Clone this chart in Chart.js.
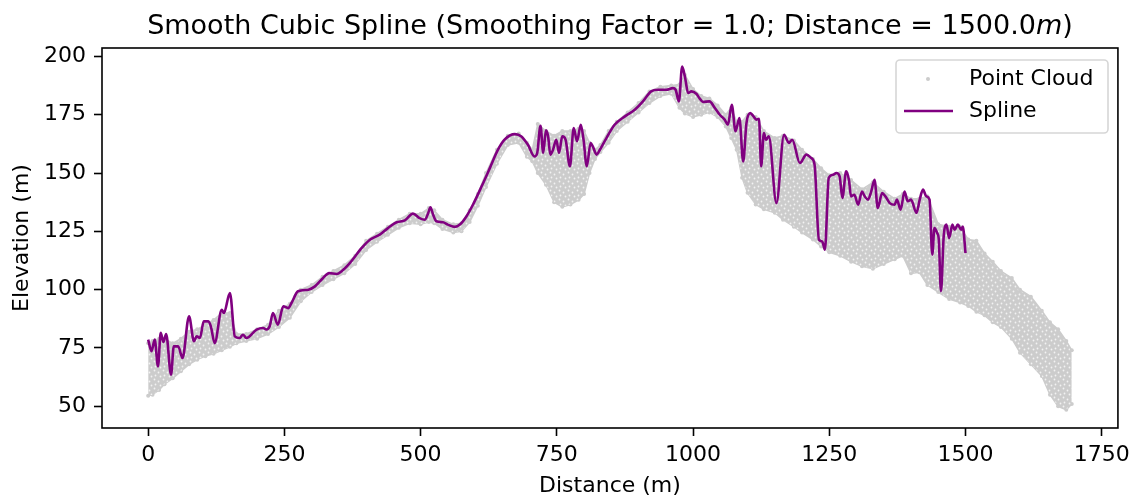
<!DOCTYPE html>
<html>
<head>
<meta charset="utf-8">
<script src="https://cdn.jsdelivr.net/npm/chart.js@4.4.1/dist/chart.umd.min.js"></script>
<style>
  html, body { margin: 0; padding: 0; background: #fff; }
  #wrap { width: 1136px; height: 498px; }
</style>
</head>
<body>
<div id="wrap"><canvas id="chart" width="1136" height="498"></canvas></div>
<script>
// Spline (distance m, elevation m)
const splineX = [0, 6, 12, 18, 23, 28, 33, 42, 47, 55, 63, 75, 84, 89, 95, 102, 110, 115, 122, 135, 139, 150, 159, 168, 174, 180,
  199, 211, 217, 223, 229, 238, 248, 257, 263, 275, 294, 306, 321, 332, 346, 355, 370, 392, 407, 425, 440, 456, 471, 486,
  498, 508, 514, 518, 523, 529, 541, 550, 563, 572, 584, 596, 612, 627, 642, 654, 673, 685, 697, 709, 714, 720, 725, 730,
  734, 738, 743, 749, 754, 760, 766, 774, 781, 787, 794, 799, 805, 812, 816, 823, 829, 841, 856, 875, 893, 908, 923, 936,
  951, 963, 968, 974, 980, 985, 991, 997, 1006, 1012, 1018, 1030, 1040, 1049, 1058, 1064, 1071, 1078, 1085, 1092, 1098,
  1105, 1111, 1116, 1121, 1125, 1130, 1134, 1139, 1153, 1167, 1176, 1182, 1196, 1208, 1217, 1223, 1231, 1237, 1242, 1249,
  1257, 1263, 1269, 1274, 1281, 1286, 1290, 1296, 1303, 1310, 1315, 1321, 1327, 1333, 1339, 1347, 1353, 1361, 1370, 1374,
  1381, 1388, 1394, 1400, 1410, 1416, 1422, 1428, 1434, 1439, 1443, 1448, 1451, 1455, 1460, 1465, 1470, 1476, 1480, 1486,
  1492, 1495, 1500];
const splineY = [78.6, 73.6, 78.6, 67.1, 81.5, 77.5, 81, 63.6, 75.7, 75.7, 70.7, 88.6, 77.9, 80, 79.3, 86.4, 86.4, 84.3, 77.1, 91.4, 90, 98.6, 80, 79.3, 80.7, 79.3,
  82.9, 83.6, 82.9, 84.3, 90, 85, 92.9, 92.1, 94.3, 99.3, 100, 101.4, 105, 107.1, 106.7, 107.9, 111.4, 117.9, 121.4, 123.6, 126.4, 128.9, 129.7, 132.6,
  130.7, 130, 132.9, 135.3, 132.1, 129.3, 128.9, 127.9, 126.9, 127.9, 131.4, 136.4, 144.3, 152.1, 160, 164.3, 166.7, 165.7, 162.1, 157.1, 158.6, 170.3, 158.6, 168.3,
  165.7, 157.9, 160, 164.3, 158.6, 165.7, 164.3, 152.9, 169.3, 163.6, 170.7, 164.3, 152.9, 162.9, 161.4, 157.9, 160, 165, 170.7, 174.3, 177.1, 180.7, 185, 185.7,
  185.7, 186.4, 185.7, 180.7, 195.7, 191.4, 184.3, 185, 184, 182, 180.5, 180.7, 177.9, 175, 172.9, 170.7, 179.3, 167.9, 173.6, 155, 171.4,
  175.7, 174.3, 172.9, 173.3, 152.9, 167.1, 164.3, 165.7, 137.1, 166.4, 162.9, 164.3, 154.3, 157.9, 156.4, 153.6, 121.4, 120.7, 117.1, 147.9,
  149.3, 150, 148.6, 139.3, 150.7, 147.1, 140, 140.7, 136.4, 142.1, 140, 138.6, 142.1, 147.1, 135, 141.4, 140, 137.1, 136.4, 138.6,
  134.3, 142.1, 137.9, 138.6, 132.9, 138.6, 142.9, 140, 138.6, 115, 126.4, 124.3, 121.4, 99.3, 122.9, 127.9, 122.1, 127.9, 125.7, 127.9,
  125.7, 127.1, 115.7];

// Point cloud outline: upper and lower edge of the grey dots
const cloudX = [0, 8, 20, 30, 45, 60, 75, 90, 105, 120, 135, 150, 162, 180, 200, 220, 240, 260, 280, 300, 320, 340, 360, 380, 400,
  420, 440, 460, 480, 500, 515, 525, 540, 560, 575, 590, 605, 620, 640, 660, 680, 695, 705, 715, 730, 745, 760, 775, 790, 800,
  810, 820, 830, 845, 860, 880, 900, 920, 940, 960, 975, 985, 1000, 1015, 1030, 1045, 1060, 1070, 1080, 1090, 1100, 1115, 1130,
  1150, 1165, 1185, 1200, 1220, 1235, 1250, 1270, 1290, 1310, 1330, 1350, 1370, 1385, 1400, 1415, 1430, 1450, 1470, 1490, 1505,
  1520, 1535, 1550, 1565, 1585, 1600, 1620, 1640, 1655, 1670, 1685, 1695];
const cloudTop = [77, 78, 79, 79, 77, 79, 82, 83, 85, 87, 90, 90, 81, 81, 83, 85, 91, 94, 100, 102, 105.5, 108, 110.5, 114.5, 121,
  124, 127, 130, 132.5, 132.5, 135, 134, 130, 128, 128.5, 134, 141, 150, 160, 166, 167, 163, 160, 171, 168, 166, 168, 168, 169, 168,
  163, 160, 162, 168, 172, 176, 180, 185, 187, 187.5, 188, 192, 186, 183, 182, 179, 175, 178, 172, 172, 175, 174, 168,
  165, 166, 164, 160, 156, 152, 149, 150, 147, 143, 146, 142, 139, 141, 139, 139, 140, 128, 127, 127, 121.5,
  121, 115.5, 112, 108, 105, 100, 97, 91, 86, 83, 78, 74];
const cloudBottom = [54.5, 55, 57, 59.5, 62, 65, 68, 70, 71.5, 72.5, 74, 75.5, 77, 78, 79, 81, 84, 88, 95, 99, 102, 104.5, 107, 111, 117,
  120.5, 123.5, 126.5, 128.5, 128, 129, 128.5, 126, 124.5, 125, 129, 136, 144, 154, 162, 163, 157, 155, 150, 145, 137.5, 135.5, 136.5, 138.5, 141,
  150, 156, 159, 163, 168, 172, 176, 180, 183, 184, 178, 175.5, 174, 175, 176, 174, 170, 165, 160, 148, 141.5, 136.5, 134.5,
  133, 130, 127, 124.5, 121.5, 118.5, 116, 114.5, 112, 110, 109, 111, 113, 114.5, 107, 107.5, 102, 99, 96, 94.5, 93,
  90.5, 89, 86, 84, 79, 73, 68, 63, 55, 50, 48.5, 51];

const xTicks = [0, 250, 500, 750, 1000, 1250, 1500, 1750];
const yTicks = [50, 75, 100, 125, 150, 175, 200];

const FONT = "DejaVu Sans";
const GREY = "#cccccc";
const PURPLE = "#800080";

const toPoints = (xs, ys) => xs.map((x, i) => ({ x: x, y: ys[i] }));

// speckled grey so the band reads like a cloud of dots
function cloudPattern() {
  const c = document.createElement("canvas");
  c.width = 9;
  c.height = 9;
  const g = c.getContext("2d");
  g.fillStyle = GREY;
  g.fillRect(0, 0, 9, 9);
  g.fillStyle = "rgba(255,255,255,0.75)";
  [[1, 1], [5, 3], [2, 6], [7, 7]].forEach((p) => {
    g.beginPath();
    g.arc(p[0] + 0.5, p[1] + 0.5, 0.9, 0, Math.PI * 2);
    g.fill();
  });
  return g.createPattern(c, "repeat");
}

// title, axis labels, frame and legend drawn like matplotlib does
const decorations = {
  id: "decorations",
  afterDraw(chart) {
    const ctx = chart.ctx;
    const a = chart.chartArea;
    ctx.save();

    ctx.strokeStyle = "#000";
    ctx.lineWidth = 1.6;
    ctx.strokeRect(a.left, a.top, a.right - a.left, a.bottom - a.top);

    // title with italic m
    const cx = (a.left + a.right) / 2;
    const parts = [
      ["Smooth Cubic Spline (Smoothing Factor = 1.0; Distance = 1500.0", "normal"],
      ["m", "oblique"],
      [")", "normal"],
    ];
    let total = 0;
    parts.forEach((p) => {
      ctx.font = p[1] + " 27px " + FONT;
      total += ctx.measureText(p[0]).width;
    });
    let x = cx - total / 2;
    ctx.fillStyle = "#000";
    ctx.textBaseline = "middle";
    ctx.textAlign = "left";
    parts.forEach((p) => {
      ctx.font = p[1] + " 27px " + FONT;
      ctx.fillText(p[0], x, 27);
      x += ctx.measureText(p[0]).width;
    });

    // axis labels
    ctx.font = "22px " + FONT;
    ctx.textAlign = "center";
    ctx.fillText("Distance (m)", cx, 486);
    ctx.save();
    ctx.translate(22, (a.top + a.bottom) / 2);
    ctx.rotate(-Math.PI / 2);
    ctx.fillText("Elevation (m)", 0, 0);
    ctx.restore();

    // legend
    const lx = 896, ly = 60, lw = 212, lh = 73;
    ctx.beginPath();
    ctx.roundRect(lx, ly, lw, lh, 4);
    ctx.fillStyle = "rgba(255,255,255,0.8)";
    ctx.fill();
    ctx.strokeStyle = "#d6d6d6";
    ctx.lineWidth = 1.6;
    ctx.stroke();

    ctx.fillStyle = GREY;
    ctx.beginPath();
    ctx.arc(928, 79, 2, 0, Math.PI * 2);
    ctx.fill();

    ctx.strokeStyle = PURPLE;
    ctx.lineWidth = 2.6;
    ctx.beginPath();
    ctx.moveTo(904, 111);
    ctx.lineTo(953, 111);
    ctx.stroke();

    ctx.fillStyle = "#000";
    ctx.textAlign = "left";
    ctx.font = "22px " + FONT;
    ctx.fillText("Point Cloud", 969, 79);
    ctx.fillText("Spline", 969, 111);

    ctx.restore();
  },
};

const tickStyle = {
  drawOnChartArea: false,
  drawTicks: true,
  tickLength: 8,
  tickWidth: 1.6,
  tickColor: "#000",
  color: "#000",
};

new Chart(document.getElementById("chart"), {
  type: "line",
  data: {
    datasets: [
      {
        label: "Spline",
        data: toPoints(splineX, splineY),
        borderColor: PURPLE,
        borderWidth: 2.6,
        pointRadius: 0,
        cubicInterpolationMode: "monotone",
        fill: false,
      },
      {
        label: "Point Cloud",
        data: toPoints(cloudX, cloudTop),
        borderColor: GREY,
        borderWidth: 1.5,
        backgroundColor: cloudPattern(),
        pointRadius: 2,
        pointBackgroundColor: GREY,
        pointBorderWidth: 0,
        fill: "+1",
      },
      {
        label: "cloud bottom",
        data: toPoints(cloudX, cloudBottom),
        borderColor: GREY,
        borderWidth: 1.5,
        pointRadius: 2,
        pointBackgroundColor: GREY,
        pointBorderWidth: 0,
        fill: false,
      },
    ],
  },
  options: {
    responsive: false,
    animation: false,
    devicePixelRatio: 1,
    layout: { padding: { top: 48, right: 18, left: 0, bottom: 0 } },
    plugins: {
      legend: { display: false },
      title: { display: false },
      tooltip: { enabled: false },
    },
    scales: {
      x: {
        type: "linear",
        min: -84.75,
        max: 1779.75,
        afterBuildTicks: (s) => { s.ticks = xTicks.map((v) => ({ value: v })); },
        afterFit: (s) => { s.height = 70; },
        grid: tickStyle,
        border: { display: false },
        ticks: {
          autoSkip: false,
          maxRotation: 0,
          padding: 6,
          color: "#000",
          font: { family: FONT, size: 22 },
          callback: (v) => String(v),
        },
      },
      y: {
        type: "linear",
        min: 40.7,
        max: 203.6,
        afterBuildTicks: (s) => { s.ticks = yTicks.map((v) => ({ value: v })); },
        afterFit: (s) => { s.width = 102; },
        grid: tickStyle,
        border: { display: false },
        ticks: {
          padding: 8,
          color: "#000",
          font: { family: FONT, size: 22 },
          callback: (v) => String(v),
        },
      },
    },
  },
  plugins: [decorations],
});
</script>
</body>
</html>
